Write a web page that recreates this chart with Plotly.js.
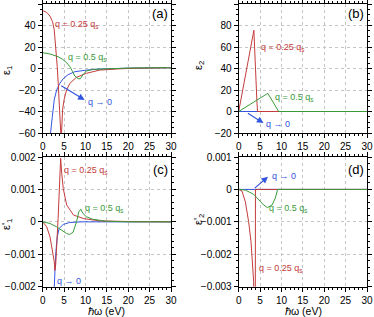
<!DOCTYPE html>
<html>
<head>
<meta charset="utf-8">
<script src="https://cdn.plot.ly/plotly-3.0.1.min.js"></script>
<style>html,body{margin:0;padding:0;background:#fff;}#plot{width:374px;height:317px;}</style>
</head>
<body>
<div id="plot"></div>
<script>
// ---- data ----
// panel (a): eps1
const aRedX = [0, 0.93, 1.7, 2.3, 2.7, 2.93, 3.16, 3.4, 3.63, 3.8, 3.95, 4.1, 4.2, 4.35, 4.4, 4.65, 5.0, 5.58, 6.35, 7.9, 10.2, 13.3, 18, 22, 30];
const aRedY = [53.8, 52.2, 48.8, 43.6, 35.8, 26.5, 14.1, 1.7, -13.8, -29.3, -44.8, -58.8, -70, -70, -60, -38.6, -29, -20, -13.8, -8.2, -4.5, -1.5, -0.3, 0.3, 0.7];
const aGreenX = [0, 1.7, 3.6, 4.65, 5.6, 6.35, 7, 7.5, 8.3, 8.8, 9.4, 10.2, 11.7, 14.8, 20, 30];
const aGreenY = [14.7, 13.5, 11, 8.5, 5.4, 1.7, -3, -7, -9.5, -9.5, -6, -2.3, -0.8, -0.2, 0.4, 0.8];
const aBlueX = [1.7, 1.86, 2.25, 2.7, 3.26, 4.0, 4.8, 5.95, 7.5, 10.2, 13.3, 20, 30];
const aBlueY = [-70, -59, -44.8, -29, -20, -13.8, -9.5, -5.7, -3, -1.5, -0.5, 0.3, 0.7];
// panel (b): eps2
const bRedX = [0, 3.55, 4.25, 4.4, 30];
const bRedY = [0, 75.5, 10, 0, 0];
const bGreenX = [0, 6.8, 9.35, 30];
const bGreenY = [0, 16.9, 0, 0];
const bBlueX = [0, 30];
const bBlueY = [0, 0];
// panel (c): eps'1
const cRedX = [0, 0.93, 1.7, 2.3, 2.7, 2.86, 3.05, 3.6, 3.95, 4.2, 4.45, 4.8, 5.6, 7.2, 9.6, 13.3, 20, 30];
const cRedY = [0, -0.00015, -0.00046, -0.00092, -0.00123, -0.0015, -0.0013, 0.0001, 0.0011, 0.00196, 0.0015, 0.00103, 0.00052, 0.00021, 0.0001, 0.00003, 0.00001, 0];
const cGreenX = [0, 1.7, 3.2, 4.4, 5.6, 6.3, 7.1, 7.9, 8.45, 8.9, 9.4, 10.2, 11.7, 14.8, 20, 30];
const cGreenY = [0, -0.00005, -0.00015, -0.00025, -0.00036, -0.00039, -0.00032, 0, 0.00031, 0.00039, 0.00026, 0.00016, 0.00008, 0.00002, 0, 0];
const cBlueX = [2.55, 2.65, 2.86, 3.09, 3.4, 3.86, 4.8, 6.3, 9, 30];
const cBlueY = [-0.0025, -0.002, -0.00154, -0.00092, -0.00046, -0.0002, -0.00008, -0.00002, 0, 0];
// panel (d): eps'2
const dRedX = [0, 0.77, 1.55, 2.33, 2.87, 3.27, 3.5, 3.6, 3.88, 3.92, 4.3, 30];
const dRedY = [0, -0.00005, -0.00038, -0.001, -0.0016, -0.00223, -0.00285, -0.0035, -0.0035, 0, 0, 0];
const dGreenX = [0, 1.55, 3.5, 4.67, 5.84, 6.7, 7.8, 8.55, 9.1, 30];
const dGreenY = [0, -0.00002, -0.00015, -0.00033, -0.00048, -0.00056, -0.00048, -0.00027, 0, 0];
const dBlueX = [0, 30];
const dBlueY = [0, 0];

const labelQ025 = 'q = 0.25 q<sub>s</sub>';
const labelQ05 = 'q = 0.5 q<sub>s</sub>';
const labelQ0 = 'q \u2192 0';
const panelLetters = ['(a)', '(b)', '(c)', '(d)'];
const yTitles = ['\u03b5<sub>1</sub>', '\u03b5<sub>2</sub>', "\u03b5'<sub>1</sub>", "\u03b5'<sub>2</sub>"];
const xTitle = '\u210f\u03c9 (eV)';

// ---- styling ----
const RED = '#c43c3c', GREEN = '#3a9a3a', BLUE = '#3355e0';
const FONT = 'Liberation Sans, Arial, Helvetica, sans-serif';
const W = 374, H = 317;
const px = v => v / W, py = v => 1 - v / H;

function line(x, y, color, xa, ya) {
  return {x: x, y: y, type: 'scatter', mode: 'lines', line: {color: color, width: 1}, xaxis: xa, yaxis: ya, hoverinfo: 'skip'};
}
const traces = [
  line(aBlueX, aBlueY, BLUE, 'x', 'y'), line(aRedX, aRedY, RED, 'x', 'y'), line(aGreenX, aGreenY, GREEN, 'x', 'y'),
  line(bBlueX, bBlueY, BLUE, 'x2', 'y2'), line(bRedX, bRedY, RED, 'x2', 'y2'), line(bGreenX, bGreenY, GREEN, 'x2', 'y2'),
  line(cBlueX, cBlueY, BLUE, 'x3', 'y3'), line(cRedX, cRedY, RED, 'x3', 'y3'), line(cGreenX, cGreenY, GREEN, 'x3', 'y3'),
  line(dBlueX, dBlueY, BLUE, 'x4', 'y4'), line(dRedX, dRedY, RED, 'x4', 'y4'), line(dGreenX, dGreenY, GREEN, 'x4', 'y4')
];

function axis(domain, range, dtick, minor, anchor) {
  return {
    domain: domain, range: range, dtick: dtick, tick0: 0, anchor: anchor,
    ticks: 'outside', ticklen: 4, tickwidth: 1, tickcolor: '#000',
    mirror: 'allticks', showline: true, linecolor: '#000', linewidth: 1,
    showgrid: true, gridcolor: '#c4c4c4', griddash: 'dot', gridwidth: 1,
    zeroline: false, automargin: false,
    minor: {dtick: minor, tick0: 0, ticklen: 2, tickwidth: 1, tickcolor: '#000', ticks: 'outside', showgrid: false},
    tickfont: {family: FONT, size: 10, color: '#000'}
  };
}
const xLeft = [px(42.7), px(171)], xRight = [px(238.7), px(367)];
const yTop = [py(133), py(4)], yBot = [py(286.7), py(157)];

const layout = {
  width: W, height: H, margin: {l: 0, r: 0, t: 0, b: 0},
  paper_bgcolor: '#fff', plot_bgcolor: '#fff', showlegend: false,
  font: {family: FONT, size: 10, color: '#000'},
  xaxis: axis(xLeft, [0, 30], 5, 1, 'y'),
  yaxis: axis(yTop, [-60, 60], 20, 5, 'x'),
  xaxis2: axis(xRight, [0, 30], 5, 1, 'y2'),
  yaxis2: axis(yTop, [-20, 100], 20, 5, 'x2'),
  xaxis3: axis(xLeft, [0, 30], 5, 1, 'y3'),
  yaxis3: axis(yBot, [-0.002, 0.002], 0.001, 0.0002, 'x3'),
  xaxis4: axis(xRight, [0, 30], 5, 1, 'y4'),
  yaxis4: axis(yBot, [-0.003, 0.001], 0.001, 0.0002, 'x4'),
  annotations: []
};

function txt(text, x, y, color, xr, yr, size) {
  return {text: text, x: x, y: y, xref: xr, yref: yr, xanchor: 'left', yanchor: 'middle', showarrow: false,
    font: {family: FONT, size: size || 9, color: color}};
}
function arrow(hx, hy, tx, ty, xr, yr) {
  return {text: '', x: hx, y: hy, ax: tx, ay: ty, xref: xr, yref: yr, axref: xr, ayref: yr,
    showarrow: true, arrowhead: 2, arrowsize: 1.1, arrowwidth: 1.2, arrowcolor: BLUE, standoff: 0, startstandoff: 0};
}
const A = layout.annotations;
// curve labels
A.push(txt(labelQ025, 2.5, 40.5, RED, 'x', 'y'));
A.push(txt(labelQ05, 5.4, 9.8, GREEN, 'x', 'y'));
A.push(txt(labelQ0, 10.1, -31, BLUE, 'x', 'y'));
A.push(arrow(9.8, -29.3, 4.0, -15.3, 'x', 'y'));

A.push(txt(labelQ025, 4.7, 59.7, RED, 'x2', 'y2'));
A.push(txt(labelQ05, 8.0, 13.2, GREEN, 'x2', 'y2'));
A.push(txt(labelQ0, 5.9, -11.6, BLUE, 'x2', 'y2'));
A.push(arrow(5.8, -10.8, 1.8, -0.7, 'x2', 'y2'));

A.push(txt(labelQ025, 4.4, 0.00157, RED, 'x3', 'y3'));
A.push(txt(labelQ05, 9.4, 0.0004, GREEN, 'x3', 'y3'));
A.push(txt(labelQ0, 2.86, -0.00183, BLUE, 'x3', 'y3'));

A.push(txt(labelQ025, 4.3, -0.00243, RED, 'x4', 'y4'));
A.push(txt(labelQ05, 6.6, -0.0006, GREEN, 'x4', 'y4'));
A.push(txt(labelQ0, 7.3, 0.00042, BLUE, 'x4', 'y4'));
A.push(arrow(6.85, 0.00039, 3.4, 0, 'x4', 'y4'));

// panel letters
const letterPos = [[170, 14], [366, 14], [170, 169], [366, 169]];
panelLetters.forEach((t, i) => A.push({text: t, x: px(letterPos[i][0]), y: py(letterPos[i][1]), xref: 'paper', yref: 'paper',
  xanchor: 'right', yanchor: 'middle', showarrow: false, font: {family: FONT, size: 13, color: '#000'}}));
// y titles
const yTitlePos = [[7, 70], [199, 66], [7, 224], [199, 220]];
yTitles.forEach((t, i) => A.push({text: t, x: px(yTitlePos[i][0]), y: py(yTitlePos[i][1]), xref: 'paper', yref: 'paper',
  xanchor: 'center', yanchor: 'middle', textangle: -90, showarrow: false, font: {family: FONT, size: 11, color: '#000'}}));
// x titles
[[107, 310.5], [303, 310.5]].forEach(p => A.push({text: xTitle, x: px(p[0]), y: py(p[1]), xref: 'paper', yref: 'paper',
  xanchor: 'center', yanchor: 'middle', showarrow: false, font: {family: FONT, size: 10.5, color: '#000'}}));

Plotly.newPlot('plot', traces, layout, {staticPlot: true, displayModeBar: false});
</script>
</body>
</html>
